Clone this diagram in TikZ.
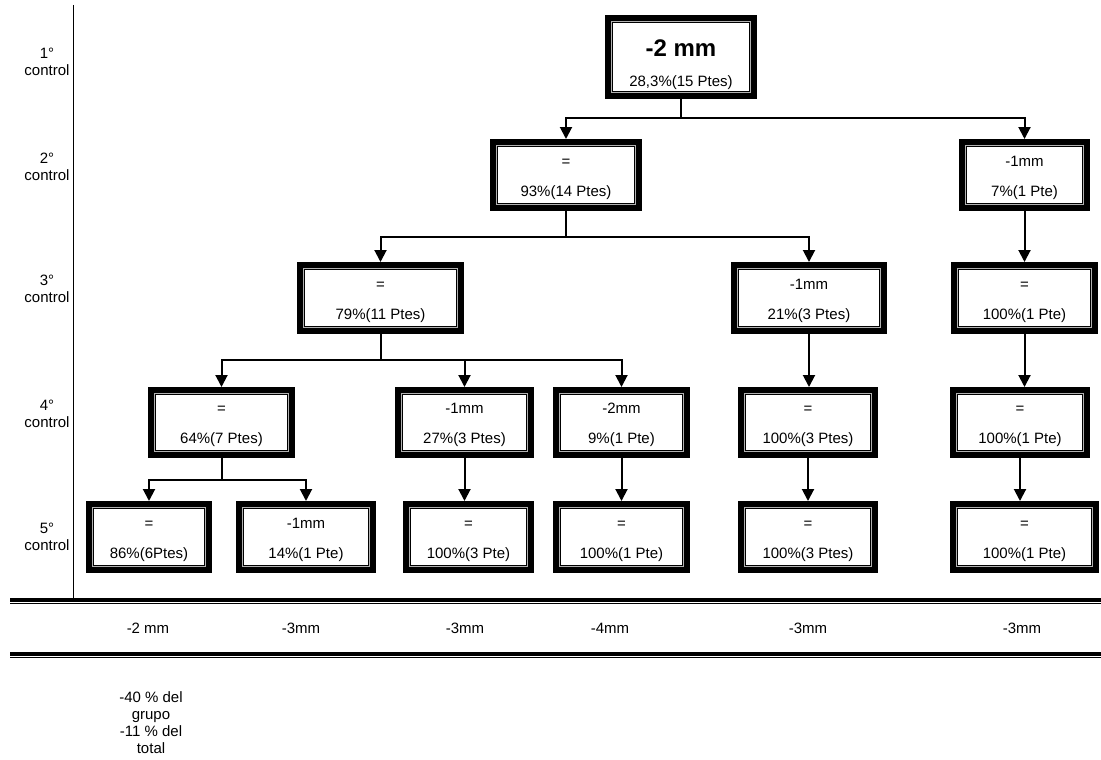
\documentclass[tikz,border=0pt]{standalone}
\usepackage{fontspec}
\setmainfont{Liberation Sans}
\usetikzlibrary{arrows.meta}
\begin{document}
\begin{tikzpicture}[x=1pt,y=-1pt,
  box/.style={draw=black, line width=8pt, fill=white, rectangle, inner sep=0pt,
    outer sep=4pt, align=center, font=\fontsize{15}{30}\selectfont},
  conn/.style={line width=2pt, -{Triangle[width=12pt,length=12pt]}},
  plain/.style={line width=2pt},
  lvl/.style={align=center, font=\fontsize{15}{17}\selectfont, inner sep=0pt},
  foot/.style={font=\fontsize{15}{17}\selectfont, inner sep=0pt},
  gapline/.style={draw=gray!60, line width=0.7pt},
  rule/.style={line width=3.5pt},
  thinrule/.style={line width=1.2pt}
]
\useasboundingbox (0,0) rectangle (1101,760);

% boxes
\node[box, minimum width=144pt, minimum height=76pt] (T) at (681,57)
  {\rule{0pt}{33pt}{\fontsize{24}{24}\selectfont\bfseries -2 mm}\\28,3\%(15 Ptes)\rule[-3.5pt]{0pt}{3.5pt}};
\node[box, minimum width=144pt, minimum height=64pt] (A2) at (566,175) {\strut =\\\strut 93\%(14 Ptes)};
\node[box, minimum width=123pt, minimum height=64pt] (B2) at (1024.5,175) {\strut -1mm\\\strut 7\%(1 Pte)};
\node[box, minimum width=159pt, minimum height=64pt] (A3) at (380.5,298) {\strut =\\\strut 79\%(11 Ptes)};
\node[box, minimum width=148pt, minimum height=64pt] (B3) at (809,298) {\strut -1mm\\\strut 21\%(3 Ptes)};
\node[box, minimum width=139pt, minimum height=64pt] (C3) at (1024.5,298) {\strut =\\\strut 100\%(1 Pte)};
\node[box, minimum width=139pt, minimum height=63pt] (A4) at (221.5,422.5) {\strut =\\\strut 64\%(7 Ptes)};
\node[box, minimum width=131pt, minimum height=63pt] (B4) at (464.5,422.5) {\strut -1mm\\\strut 27\%(3 Ptes)};
\node[box, minimum width=129pt, minimum height=63pt] (C4) at (621.5,422.5) {\strut -2mm\\\strut 9\%(1 Pte)};
\node[box, minimum width=132pt, minimum height=63pt] (D4) at (808,422.5) {\strut =\\\strut 100\%(3 Ptes)};
\node[box, minimum width=132pt, minimum height=63pt] (E4) at (1020,422.5) {\strut =\\\strut 100\%(1 Pte)};
\node[box, minimum width=118pt, minimum height=64pt] (A5) at (149,537) {\strut =\\\strut 86\%(6Ptes)};
\node[box, minimum width=132pt, minimum height=64pt] (B5) at (306,537) {\strut -1mm\\\strut 14\%(1 Pte)};
\node[box, minimum width=123pt, minimum height=64pt] (C5) at (468.5,537) {\strut =\\\strut 100\%(3 Pte)};
\node[box, minimum width=129pt, minimum height=64pt] (D5) at (621.5,537) {\strut =\\\strut 100\%(1 Pte)};
\node[box, minimum width=132pt, minimum height=64pt] (E5) at (808,537) {\strut =\\\strut 100\%(3 Ptes)};
\node[box, minimum width=141pt, minimum height=64pt] (F5) at (1024.5,537) {\strut =\\\strut 100\%(1 Pte)};

% thin light gap near the inner side of each frame
\foreach \n in {T,A2,B2,A3,B3,C3,A4,B4,C4,D4,E4,A5,B5,C5,D5,E5,F5}{
  \draw[gapline] ([shift={(6.3pt,6.3pt)}]\n.south west) rectangle ([shift={(-6.3pt,-6.3pt)}]\n.north east);
}

% junction levels
\coordinate (j1) at (0,118);
\coordinate (j2) at (0,237);
\coordinate (j3) at (0,360);
\coordinate (j4) at (0,480);

% connectors
\draw[plain] (T.south) -- (T.south |- j1);
\draw[conn] (T.south |- j1) -| (A2.north);
\draw[conn] (T.south |- j1) -| (B2.north);
\draw[plain] (A2.south) -- (A2.south |- j2);
\draw[conn] (A2.south |- j2) -| (A3.north);
\draw[conn] (A2.south |- j2) -| (B3.north);
\draw[conn] (B2.south) -- (B2.south |- C3.north);
\draw[plain] (A3.south) -- (A3.south |- j3);
\draw[conn] (A3.south |- j3) -| (A4.north);
\draw[conn] (A3.south |- j3) -| (B4.north);
\draw[conn] (A3.south |- j3) -| (C4.north);
\draw[conn] (B3.south) -- (B3.south |- D4.north);
\draw[conn] (C3.south) -- (C3.south |- E4.north);
\draw[plain] (A4.south) -- (A4.south |- j4);
\draw[conn] (A4.south |- j4) -| (A5.north);
\draw[conn] (A4.south |- j4) -| (B5.north);
\draw[conn] (B4.south) -- (B4.south |- C5.north);
\draw[conn] (C4.south) -- (C4.south |- D5.north);
\draw[conn] (D4.south) -- (D4.south |- E5.north);
\draw[conn] (E4.south) -- (E4.south |- F5.north);

% level labels
\node[lvl] (L1) at (47,62) {1°\\control};
\node[lvl] (L2) at (47,167) {2°\\control};
\node[lvl] (L3) at (47,289) {3°\\control};
\node[lvl] (L4) at (47,414) {4°\\control};
\node[lvl] (L5) at (47,537) {5°\\control};

% axis
\coordinate (ax1) at (73,5);
\coordinate (ax2) at (73,599);
\draw[line width=1pt] (ax1) -- (ax2);

% horizontal rules
\coordinate (r1a) at (10,600);
\coordinate (r1b) at (1101,600);
\coordinate (r2a) at (10,654);
\coordinate (r2b) at (1101,654);
\draw[rule] (r1a) -- (r1b);
\draw[thinrule] ([yshift=-3.4pt]r1a) -- ([yshift=-3.4pt]r1b);
\draw[rule] (r2a) -- (r2b);
\draw[thinrule] ([yshift=-3.4pt]r2a) -- ([yshift=-3.4pt]r2b);

% results row
\node[foot] (R1) at (148,628) {-2 mm};
\node[foot] (R2) at (301,628) {-3mm};
\node[foot] (R3) at (465,628) {-3mm};
\node[foot] (R4) at (610,628) {-4mm};
\node[foot] (R5) at (808,628) {-3mm};
\node[foot] (R6) at (1022,628) {-3mm};

% note
\node[lvl] (N) at (151,722.5) {-40 \% del\\grupo\\-11 \% del\\total};
\end{tikzpicture}
\end{document}
